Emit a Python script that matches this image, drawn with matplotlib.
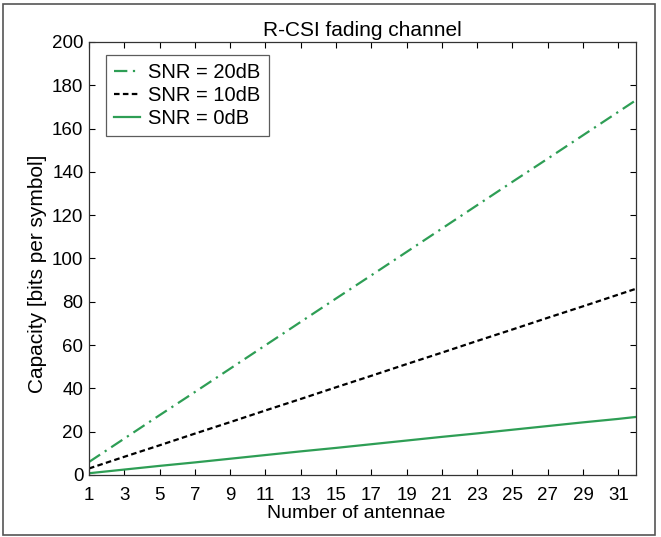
import matplotlib
matplotlib.use("Agg")
import matplotlib.pyplot as plt
from matplotlib.patches import Rectangle

plt.rcParams['font.family'] = ['Liberation Sans', 'DejaVu Sans']

# values
antennas = [1, 3, 5, 7, 9, 11, 13, 15, 17, 19, 21, 23, 25, 27, 29, 31, 32]
snr_20db = [6.0, 16.8, 27.6, 38.3, 49.1, 59.9, 70.7, 81.5, 92.2, 103.0,
            113.8, 124.6, 135.4, 146.1, 156.9, 167.7, 173.1]
snr_10db = [3.0, 8.4, 13.7, 19.1, 24.4, 29.8, 35.1, 40.5, 45.8, 51.2,
            56.5, 61.9, 67.2, 72.6, 77.9, 83.3, 86.0]
snr_0db = [0.8, 2.5, 4.2, 5.8, 7.5, 9.2, 10.9, 12.5, 14.2, 15.9,
           17.6, 19.2, 20.9, 22.6, 24.3, 25.9, 26.8]
xticks = list(range(1, 32, 2))
yticks = list(range(0, 201, 20))

green = '#2e9e55'

fig = plt.figure(figsize=(6.61, 5.37), dpi=100)
ax = fig.add_axes([0.1346, 0.1155, 0.962 - 0.1346, 0.9218 - 0.1155])

ax.plot(antennas, snr_20db, color=green, lw=1.6, dashes=(6, 2.5, 1, 2.5), label='SNR = 20dB')
ax.plot(antennas, snr_10db, color='black', lw=1.6, dashes=(2.5, 1.5), label='SNR = 10dB')
ax.plot(antennas, snr_0db, color=green, lw=1.6, label='SNR = 0dB')

ax.set_xlim(1, 32)
ax.set_ylim(0, 200)
ax.set_xticks(xticks)
ax.set_yticks(yticks)
ax.tick_params(direction='in', top=True, right=True, labelsize=13.5, length=4)
ax.tick_params(axis='x', pad=9)
ax.tick_params(axis='y', pad=4)
for s in ax.spines.values():
    s.set_linewidth(0.9)
    s.set_color('#333333')

ax.set_title('R-CSI fading channel', fontsize=15, pad=4)
ax.set_xlabel('Number of antennae', fontsize=14)
ax.set_ylabel('Capacity [bits per symbol]', fontsize=15)
ax.xaxis.set_label_coords(0.488, -0.069)
ax.yaxis.set_label_coords(-0.076, 0.464)

leg = ax.legend(loc='upper left', fontsize=14.5, frameon=True, fancybox=False,
                handlelength=1.3, handletextpad=0.4, borderpad=0.4,
                labelspacing=0.2, borderaxespad=0, bbox_to_anchor=(0.031, 0.97))
leg.get_frame().set_edgecolor('#333333')
leg.get_frame().set_linewidth(0.9)

# outer frame around the whole figure
fig.patches.append(Rectangle((0.005, 0.004), 0.986, 0.988, transform=fig.transFigure,
                             fill=False, edgecolor='#555555', linewidth=1.2))

plt.savefig('out.png', dpi=100)
